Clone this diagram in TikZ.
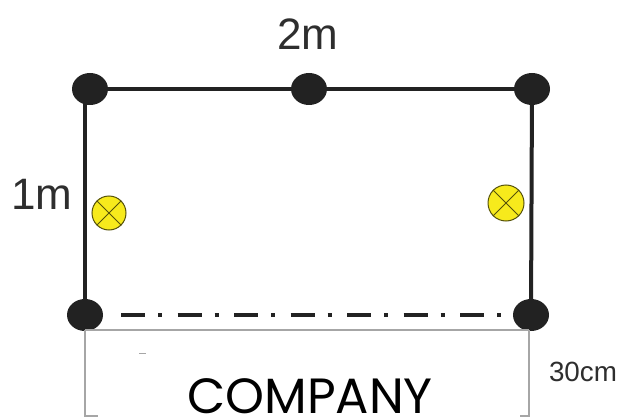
\documentclass[tikz,border=0pt]{standalone}
\usepackage{fontspec}
\setmainfont{Liberation Sans}
\newfontfamily\compfont{Poppins}
\usetikzlibrary{shapes.geometric}
\definecolor{ink}{HTML}{222222}
\definecolor{txt}{HTML}{2E2E2E}
\definecolor{rule}{HTML}{A6A6A6}
\definecolor{lamp}{HTML}{F7EA1C}
\tikzset{
  post/.style={ellipse,fill=ink,draw=none,minimum width=36pt,minimum height=32pt,inner sep=0pt},
  wire/.style={draw=ink,line width=4pt},
  guide/.style={draw=rule,line width=2pt},
  centre/.style={draw=ink,line width=3.8pt,dash pattern=on 24pt off 13pt on 4pt off 15.5pt},
  lampbody/.style={circle,fill=lamp,draw=black!65!lamp,line width=1pt,inner sep=0pt},
  lbl/.style={text=txt,inner sep=0pt,font=\fontsize{44pt}{44pt}\selectfont},
  smalllbl/.style={text=txt,inner sep=0pt,font=\fontsize{27.8pt}{28pt}\selectfont},
}
\begin{document}
\begin{tikzpicture}[x=1pt,y=-1pt]
\useasboundingbox (0,0) rectangle (618,417);
\coordinate (gTL) at (85,89);
\coordinate (gBL) at (85,315);
\coordinate (gTR) at (532,89);
\coordinate (gBR) at (531,315);
\coordinate (dL) at (121,315);
\coordinate (dR) at (502,315);
\coordinate (hL) at (85,330);
\coordinate (hR) at (529,330);
\coordinate (vL) at (85,416);
\coordinate (vR) at (529,416);
\coordinate (tL) at (98,416);
\coordinate (tR) at (520,416);
\coordinate (mA) at (139,353);
\coordinate (mB) at (146,353);
\node[post] (tl) at (90,89) {};
\node[post] (tm) at (309,89) {};
\node[post] (tr) at (532,89) {};
\node[post] (bl) at (85,315) {};
\node[post] (br) at (531,315) {};
\draw[wire] (tl) -- (tm);
\draw[wire] (tm) -- (tr);
\draw[wire] (gTL) -- (gBL);
\draw[wire] (gTR) -- (gBR);
\draw[centre] (dL) -- (dR);
\draw[guide] (hL) -- (hR);
\draw[guide] (hL) -- (vL) -- (tL);
\draw[guide] (hR) -- (vR) -- (tR);
\draw[draw=rule,line width=1pt] (mA) -- (mB);
\node[lampbody,minimum size=34pt] (lampL) at (109,213) {};
\node[lampbody,minimum size=36pt] (lampR) at (506,203) {};
\draw[draw=black!65!lamp,line width=0.9pt] (lampL.45) -- (lampL.225) (lampL.135) -- (lampL.315);
\draw[draw=black!65!lamp,line width=0.9pt] (lampR.45) -- (lampR.225) (lampR.135) -- (lampR.315);
\node[lbl] (w) at (308,34) {2m};
\node[lbl] (h) at (42,194) {1m};
\node[smalllbl] (c) at (583,372) {30cm};
\node[anchor=base,inner sep=0pt,text=black,font=\compfont\fontsize{49.5pt}{50pt}\selectfont] (co) at (310,413) {COMPANY};
\end{tikzpicture}
\end{document}
